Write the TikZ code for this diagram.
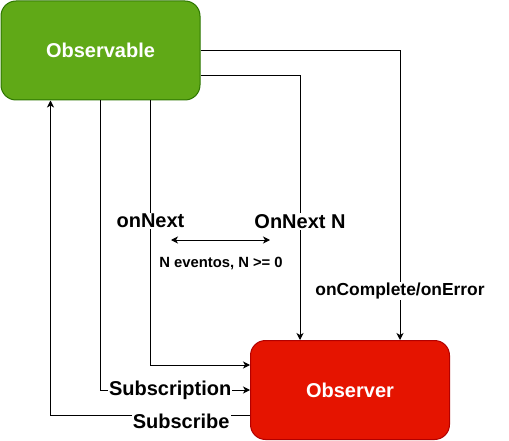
\documentclass[tikz,border=0pt]{standalone}
\usepackage{fontspec}
\setmainfont{Liberation Sans}
\usetikzlibrary{arrows.meta,calc}
\definecolor{obsfill}{HTML}{60A917}
\definecolor{obsline}{HTML}{2D7600}
\definecolor{rfill}{HTML}{E51400}
\definecolor{rline}{HTML}{B20000}
\begin{document}
\begin{tikzpicture}[x=1pt,y=-1pt,
  box/.style={rounded corners=15pt, minimum width=199pt, minimum height=99pt, line width=1pt, text=white, font=\fontsize{20}{24}\selectfont\bfseries},
  conn/.style={line width=0.9pt, -{Stealth[length=7pt,width=7pt,inset=2pt]}},
  lbl/.style={fill=white, inner sep=1pt, font=\fontsize{20}{24}\selectfont\bfseries},
  mlbl/.style={fill=white, inner sep=1pt, font=\fontsize{17.4}{21}\selectfont\bfseries},
  slbl/.style={inner sep=1pt, font=\fontsize{14.8}{17}\selectfont\bfseries}]
\useasboundingbox (0,0) rectangle (509,441);
\node[box, fill=obsfill, draw=obsline] (obs) at (100.5,50.5) {Observable};
\node[box, fill=rfill, draw=rline] (obsr) at (350,390) {Observer};
% onComplete/onError
\draw[conn] (obs.east) -| ($(obsr.north)+(50,0)$) node[mlbl, pos=0.916] {onComplete/onError};
% OnNext N
\draw[conn] ($(obs.east)+(0,25)$) -| ($(obsr.north)+(-50,0)$) node[lbl, pos=0.776] {OnNext N};
% onNext
\draw[conn] ($(obs.south)+(50,0)$) |- ($(obsr.west)+(0,-25)$) node[lbl, pos=0.228] {onNext};
% Subscription
\draw[conn] ($(obs.south)+(0,0)$) |- (obsr.west) node[lbl, pos=0.733] {Subscription};
% Subscribe
\draw[conn] ($(obsr.west)+(0,25)$) -| ($(obs.south)+(-50,0)$) node[lbl, pos=0.1725, yshift=-6pt] {Subscribe};
% N eventos
\coordinate (n1) at (171,240);
\coordinate (n2) at (270,240);
\draw[line width=0.9pt, {Stealth[length=7pt,width=7pt,inset=2pt]}-{Stealth[length=7pt,width=7pt,inset=2pt]}] (n1) -- (n2);
\node[slbl] (nev) at (221,263) {N eventos, N >= 0};
\end{tikzpicture}
\end{document}
